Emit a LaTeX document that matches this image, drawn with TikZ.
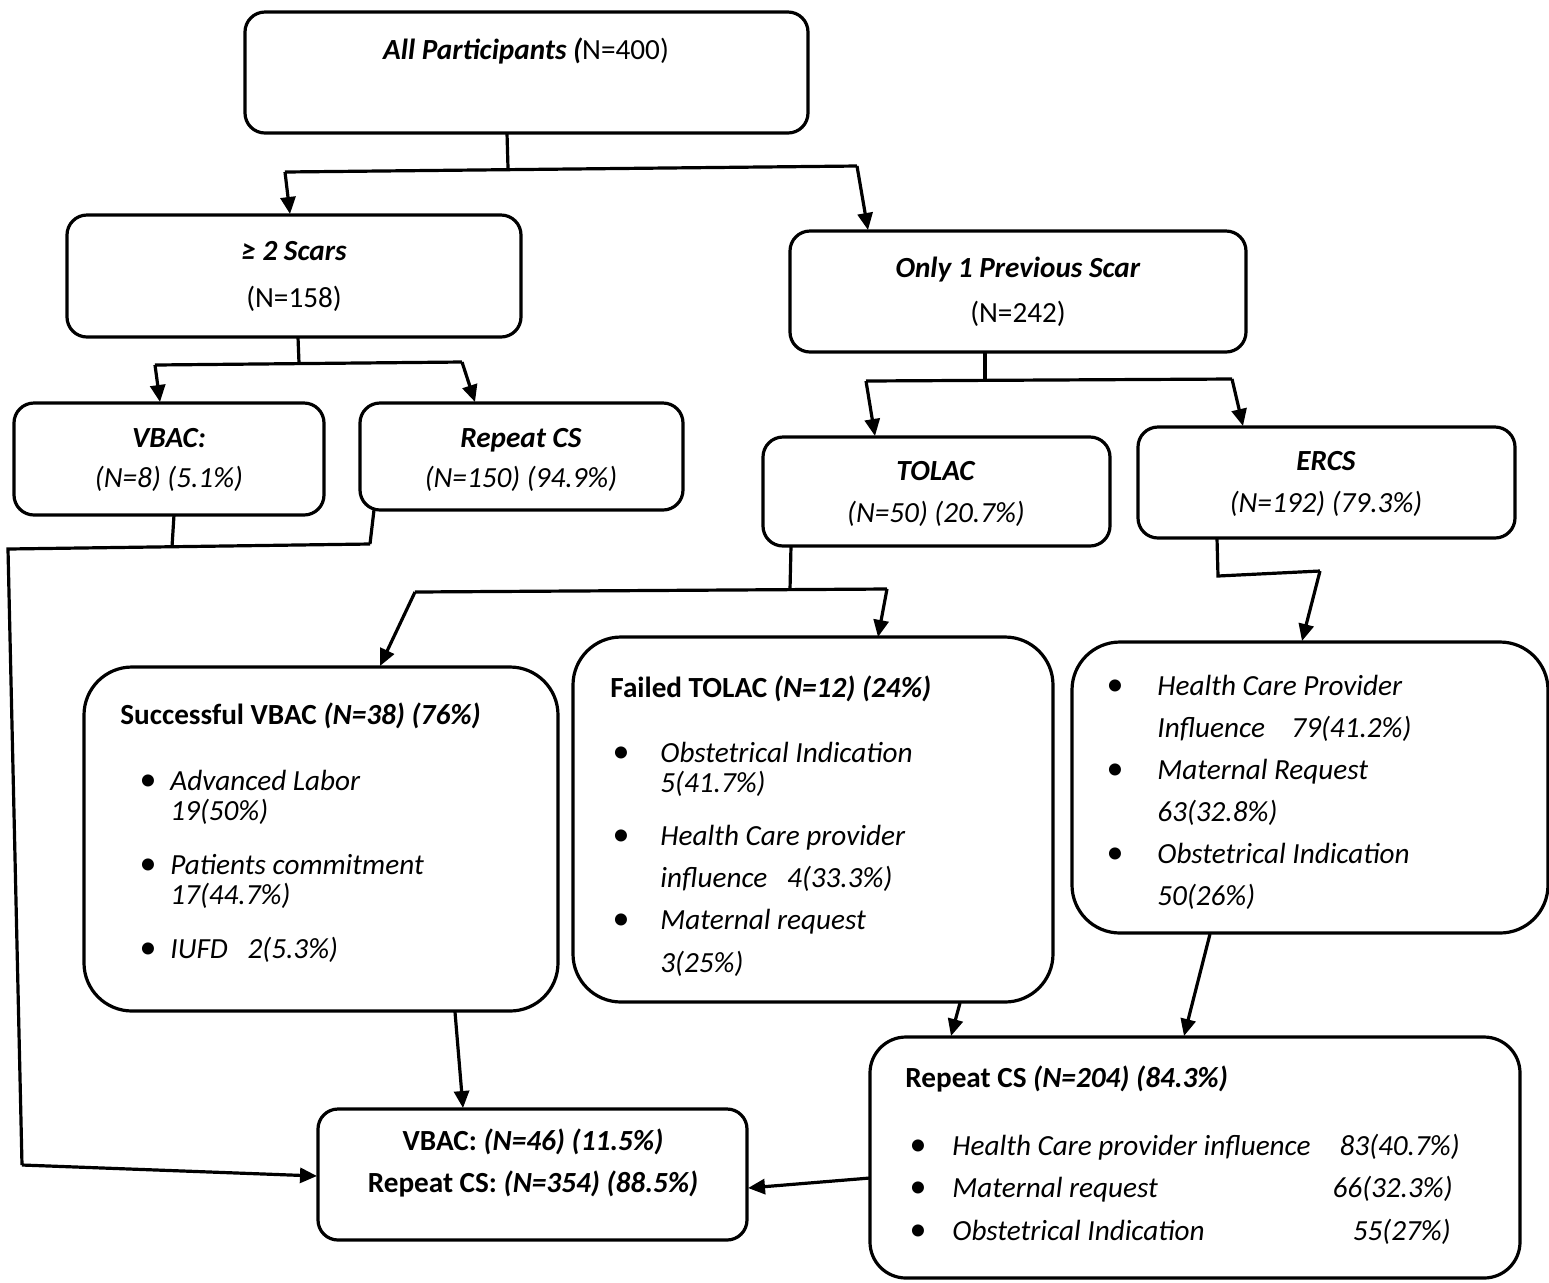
\documentclass[tikz,border=0pt]{standalone}
\usepackage{fontspec}
\setmainfont{Carlito}
\usetikzlibrary{arrows.meta}
\begin{document}
\begin{tikzpicture}[x=0.5pt,y=-0.5pt,
  box/.style={draw,line width=1.6pt,inner sep=0pt,outer sep=0pt,rounded corners=10pt},
  bigbox/.style={box,rounded corners=24pt},
  txt/.style={inner sep=0pt,text height=10pt,text depth=3pt,font=\fontsize{14.6}{17}\selectfont},
  bul/.style={txt,font=\fontsize{17}{17}\selectfont},
  ln/.style={line width=1.6pt},
  arr/.style={line width=1.6pt,-{Triangle[length=8.5pt,width=7.5pt]}}]
\useasboundingbox (0,0) rectangle (1549,1282);
% boxes
\node[box,minimum width=281.5pt,minimum height=60.5pt] (all) at (526.5,72.5) {};
\node[box,minimum width=227pt,minimum height=61pt] (two) at (294,276) {};
\node[box,minimum width=228pt,minimum height=60.5pt] (one) at (1018,291.5) {};
\node[box,minimum width=155pt,minimum height=56pt] (vbac) at (169,459) {};
\node[box,minimum width=161.5pt,minimum height=53.5pt] (rcs) at (521.5,456.5) {};
\node[box,minimum width=173.5pt,minimum height=54.5pt] (tolac) at (936.5,491.5) {};
\node[box,minimum width=188.5pt,minimum height=55.5pt] (ercs) at (1326.5,482.5) {};
\node[bigbox,minimum width=237pt,minimum height=172pt] (succ) at (321,839) {};
\node[bigbox,minimum width=240pt,minimum height=182.5pt] (fail) at (813,819.5) {};
\node[bigbox,minimum width=238pt,minimum height=145.5pt] (ercsd) at (1310,787.5) {};
\node[box,rounded corners=18pt,minimum width=325pt,minimum height=120.5pt] (rcs2) at (1195,1157.5) {};
\node[box,minimum width=214.5pt,minimum height=65.5pt] (final) at (532.5,1174.5) {};
% texts
\node[txt] (tall) at (526,52) {\textbf{\textit{All Participants (}}N=400)};
\node[txt] (ttwo1) at (294,253) {\textbf{\textit{≥ 2 Scars}}};
\node[txt] (ttwo2) at (294,300) {(N=158)};
\node[txt] (tone1) at (1018,270) {\textbf{\textit{Only 1 Previous Scar}}};
\node[txt] (tone2) at (1018,315) {(N=242)};
\node[txt] (tv1) at (169,440) {\textbf{\textit{VBAC:}}};
\node[txt] (tv2) at (169,480) {\textit{(N=8) (5.1\%)}};
\node[txt] (tr1) at (521,440) {\textbf{\textit{Repeat CS}}};
\node[txt] (tr2) at (521,480) {\textit{(N=150) (94.9\%)}};
\node[txt] (tt1) at (936,473) {\textbf{\textit{TOLAC}}};
\node[txt] (tt2) at (936,515) {\textit{(N=50) (20.7\%)}};
\node[txt] (te1) at (1326,463) {\textbf{\textit{ERCS}}};
\node[txt] (te2) at (1326,505) {\textit{(N=192) (79.3\%)}};
% successful VBAC
\node[txt,anchor=west] (s0) at (120,717) {\textbf{Successful VBAC \textit{(N=38) (76\%)}}};
\node[bul] (sb1) at (148,783) {•};
\node[bul] (sb2) at (148,867) {•};
\node[bul] (sb3) at (148,951) {•};
\node[txt,anchor=west] (s1) at (170,783) {\textit{Advanced Labor}};
\node[txt,anchor=west] (s2) at (170,813) {\textit{19(50\%)}};
\node[txt,anchor=west] (s3) at (170,867) {\textit{Patients commitment}};
\node[txt,anchor=west] (s4) at (170,897) {\textit{17(44.7\%)}};
\node[txt,anchor=west] (s5) at (170,951) {\textit{IUFD\ \ \ 2(5.3\%)}};
% failed TOLAC
\node[txt,anchor=west] (f0) at (610,690) {\textbf{Failed TOLAC \textit{(N=12) (24\%)}}};
\node[bul] (fb1) at (621,755) {•};
\node[bul] (fb2) at (621,838) {•};
\node[bul] (fb3) at (621,922) {•};
\node[txt,anchor=west] (f1) at (660,755) {\textit{Obstetrical Indication}};
\node[txt,anchor=west] (f2) at (660,785) {\textit{5(41.7\%)}};
\node[txt,anchor=west] (f3) at (660,838) {\textit{Health Care provider}};
\node[txt,anchor=west] (f4) at (660,880) {\textit{influence\ \ \ 4(33.3\%)}};
\node[txt,anchor=west] (f5) at (660,922) {\textit{Maternal request}};
\node[txt,anchor=west] (f6) at (660,965) {\textit{3(25\%)}};
% ERCS details
\node[bul] (eb1) at (1115,688) {•};
\node[bul] (eb2) at (1115,772) {•};
\node[bul] (eb3) at (1115,856) {•};
\node[txt,anchor=west] (e1) at (1157,688) {\textit{Health Care Provider}};
\node[txt,anchor=west] (e2) at (1157,730) {\textit{Influence\ \ \ \ 79(41.2\%)}};
\node[txt,anchor=west] (e3) at (1157,772) {\textit{Maternal Request}};
\node[txt,anchor=west] (e4) at (1157,814) {\textit{63(32.8\%)}};
\node[txt,anchor=west] (e5) at (1157,856) {\textit{Obstetrical Indication}};
\node[txt,anchor=west] (e6) at (1157,898) {\textit{50(26\%)}};
% repeat CS 204
\node[txt,anchor=west] (r0) at (905,1080) {\textbf{Repeat CS \textit{(N=204) (84.3\%)}}};
\node[bul] (rb1) at (918,1148) {•};
\node[bul] (rb2) at (918,1190) {•};
\node[bul] (rb3) at (918,1233) {•};
\node[txt,anchor=west] (r1) at (952,1148) {\textit{Health Care provider influence}};
\node[txt,anchor=west] (r2) at (952,1190) {\textit{Maternal request}};
\node[txt,anchor=west] (r3) at (952,1233) {\textit{Obstetrical Indication}};
\node[txt,anchor=east] (r1n) at (1460,1148) {\textit{83(40.7\%)}};
\node[txt,anchor=east] (r2n) at (1453,1190) {\textit{66(32.3\%)}};
\node[txt,anchor=east] (r3n) at (1451,1233) {\textit{55(27\%)}};
% final
\node[txt] (fin1) at (533,1143) {\textbf{VBAC: \textit{(N=46) (11.5\%)}}};
\node[txt] (fin2) at (533,1185) {\textbf{Repeat CS: \textit{(N=354) (88.5\%)}}};
% connectors
\coordinate (a0) at (507,133); \coordinate (a1) at (508,168);
\coordinate (aL) at (285,172); \coordinate (aR) at (857,166);
\coordinate (aLt) at (290,214); \coordinate (aRt) at (868,230);
\draw[ln] (a0) -- (a1);
\draw[ln] (aL) -- (aR);
\draw[arr] (aL) -- (aLt);
\draw[arr] (aR) -- (aRt);
\coordinate (b0) at (298,337); \coordinate (b1) at (299,363);
\coordinate (bL) at (155,365); \coordinate (bR) at (462,362);
\coordinate (bLt) at (160,402); \coordinate (bRt) at (475,402);
\draw[ln] (b0) -- (b1);
\draw[ln] (bL) -- (bR);
\draw[arr] (bL) -- (bLt);
\draw[arr] (bR) -- (bRt);
\coordinate (c0) at (985,352); \coordinate (c1) at (985,380);
\coordinate (cL) at (866,381); \coordinate (cR) at (1232,379);
\coordinate (cLt) at (875,436); \coordinate (cRt) at (1243,426);
\draw[ln] (c0) -- (c1);
\draw[ln] (cL) -- (cR);
\draw[arr] (cL) -- (cLt);
\draw[arr] (cR) -- (cRt);
\coordinate (d0) at (174,515); \coordinate (d1) at (172,547);
\coordinate (d2) at (374,510); \coordinate (d3) at (370,544);
\coordinate (dL) at (8,549); \coordinate (dB) at (22,1165); \coordinate (dT) at (317,1176);
\draw[ln] (d0) -- (d1);
\draw[ln] (d2) -- (d3);
\draw[ln] (d3) -- (dL) -- (dB);
\draw[arr] (dB) -- (dT);
\coordinate (g0) at (791,546); \coordinate (g1) at (790,590);
\coordinate (gL) at (415,592); \coordinate (gR) at (887,589);
\coordinate (gLt) at (380,666); \coordinate (gRt) at (878,637);
\draw[ln] (g0) -- (g1);
\draw[ln] (gL) -- (gR);
\draw[arr] (gL) -- (gLt);
\draw[arr] (gR) -- (gRt);
\coordinate (h0) at (1217,538); \coordinate (h1) at (1218,576); \coordinate (h2) at (1320,571);
\coordinate (ht) at (1302,641);
\draw[ln] (h0) -- (h1) -- (h2);
\draw[arr] (h2) -- (ht);
\coordinate (i0) at (960,1003); \coordinate (it) at (951,1036);
\draw[arr] (i0) -- (it);
\coordinate (k0) at (1210,934); \coordinate (kt) at (1184,1036);
\draw[arr] (k0) -- (kt);
\coordinate (m0) at (455,1012); \coordinate (mt) at (463,1108);
\draw[arr] (m0) -- (mt);
\coordinate (n0) at (870,1178); \coordinate (nt) at (748,1188);
\draw[arr] (n0) -- (nt);
\end{tikzpicture}
\end{document}
